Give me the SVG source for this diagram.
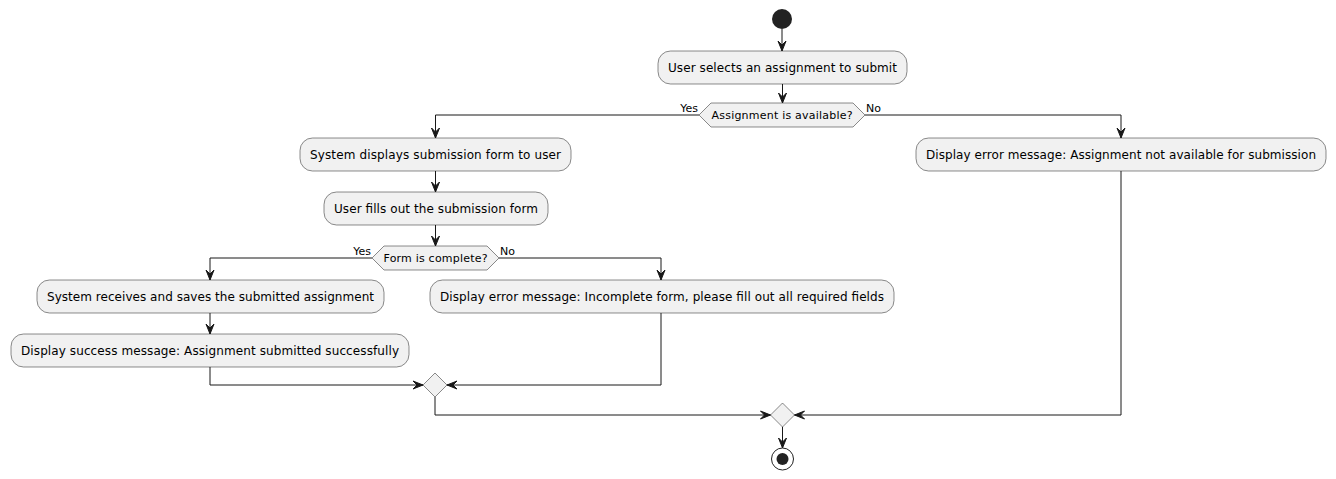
<svg xmlns="http://www.w3.org/2000/svg" width="1336" height="479" viewBox="0 0 1336 479">
<defs>
<style>
.act{fill:#F1F1F1;stroke:#181818;stroke-width:0.5}
.t{font-family:"DejaVu Sans",sans-serif;font-size:12px;fill:#000;text-anchor:middle}
.s{font-family:"DejaVu Sans",sans-serif;font-size:11px;fill:#000}
.ln{fill:none;stroke:#181818;stroke-width:1}
.ah{fill:#181818;stroke:#181818;stroke-width:1}
</style>
</defs>
<rect width="1336" height="479" fill="#FFFFFF"/>
<g id="start"><circle cx="782" cy="19" r="10" fill="#222222"/></g>
<g id="a1"><rect class="act" x="658" y="51" width="249" height="33" rx="12.5"/><text class="t" x="782.5" y="71.5" textLength="229" lengthAdjust="spacing">User selects an assignment to submit</text></g>
<g id="d1"><polygon class="act" points="699,115 711,103 853,103 865,115 853,127 711,127"/><text class="s" x="782" y="119" text-anchor="middle" textLength="141" lengthAdjust="spacing">Assignment is available?</text><text class="s" x="698" y="112" text-anchor="end">Yes</text><text class="s" x="866" y="112">No</text></g>
<g id="a2"><rect class="act" x="300" y="138" width="271" height="33" rx="12.5"/><text class="t" x="435.5" y="158.5" textLength="251" lengthAdjust="spacing">System displays submission form to user</text></g>
<g id="a3"><rect class="act" x="324" y="192" width="224" height="33" rx="12.5"/><text class="t" x="436" y="212.5" textLength="204" lengthAdjust="spacing">User fills out the submission form</text></g>
<g id="d2"><polygon class="act" points="372,258 384,246 487,246 499,258 487,270 384,270"/><text class="s" x="435.5" y="262" text-anchor="middle" textLength="104" lengthAdjust="spacing">Form is complete?</text><text class="s" x="371" y="255" text-anchor="end">Yes</text><text class="s" x="500" y="255">No</text></g>
<g id="a4"><rect class="act" x="37" y="280" width="347" height="33" rx="12.5"/><text class="t" x="210.5" y="300.5" textLength="327" lengthAdjust="spacing">System receives and saves the submitted assignment</text></g>
<g id="a5"><rect class="act" x="11" y="334" width="398" height="33" rx="12.5"/><text class="t" x="210" y="354.5" textLength="378" lengthAdjust="spacing">Display success message: Assignment submitted successfully</text></g>
<g id="a6"><rect class="act" x="430" y="280" width="464" height="33" rx="12.5"/><text class="t" x="662" y="300.5" textLength="444" lengthAdjust="spacing">Display error message: Incomplete form, please fill out all required fields</text></g>
<g id="a7"><rect class="act" x="916" y="138" width="410" height="33" rx="12.5"/><text class="t" x="1121" y="158.5" textLength="390" lengthAdjust="spacing">Display error message: Assignment not available for submission</text></g>
<g id="m2"><polygon class="act" points="435,373 447,385 435,397 423,385"/></g>
<g id="m1"><polygon class="act" points="782.5,403 794.5,415 782.5,427 770.5,415"/></g>
<g id="end"><circle cx="782.5" cy="459" r="11" fill="none" stroke="#222222" stroke-width="1"/><circle cx="782.5" cy="459" r="6" fill="#222222"/></g>
<g id="connectors">
<path class="ln" d="M782,29 V51"/><polygon class="ah" points="778,41 782,51 786,41 782,45"/>
<path class="ln" d="M782.5,84 V103"/><polygon class="ah" points="778.5,93 782.5,103 786.5,93 782.5,97"/>
<path class="ln" d="M699,115 H435.5 V138"/><polygon class="ah" points="431.5,128 435.5,138 439.5,128 435.5,132"/>
<path class="ln" d="M865,115 H1121 V138"/><polygon class="ah" points="1117,128 1121,138 1125,128 1121,132"/>
<path class="ln" d="M435.5,171 V192"/><polygon class="ah" points="431.5,182 435.5,192 439.5,182 435.5,186"/>
<path class="ln" d="M435.5,225 V246"/><polygon class="ah" points="431.5,236 435.5,246 439.5,236 435.5,240"/>
<path class="ln" d="M372,258 H210 V280"/><polygon class="ah" points="206,270 210,280 214,270 210,274"/>
<path class="ln" d="M499,258 H661 V280"/><polygon class="ah" points="657,270 661,280 665,270 661,274"/>
<path class="ln" d="M210,313 V334"/><polygon class="ah" points="206,324 210,334 214,324 210,328"/>
<path class="ln" d="M210,367 V385 H423"/><polygon class="ah" points="413,381 423,385 413,389 417,385"/>
<path class="ln" d="M661,313 V385 H447"/><polygon class="ah" points="457,381 447,385 457,389 453,385"/>
<path class="ln" d="M435,397 V415 H770.5"/><polygon class="ah" points="760.5,411 770.5,415 760.5,419 764.5,415"/>
<path class="ln" d="M1121,171 V415 H794.5"/><polygon class="ah" points="804.5,411 794.5,415 804.5,419 800.5,415"/>
<path class="ln" d="M782.5,427 V448"/><polygon class="ah" points="778.5,438 782.5,448 786.5,438 782.5,442"/>
</g>
</svg>
